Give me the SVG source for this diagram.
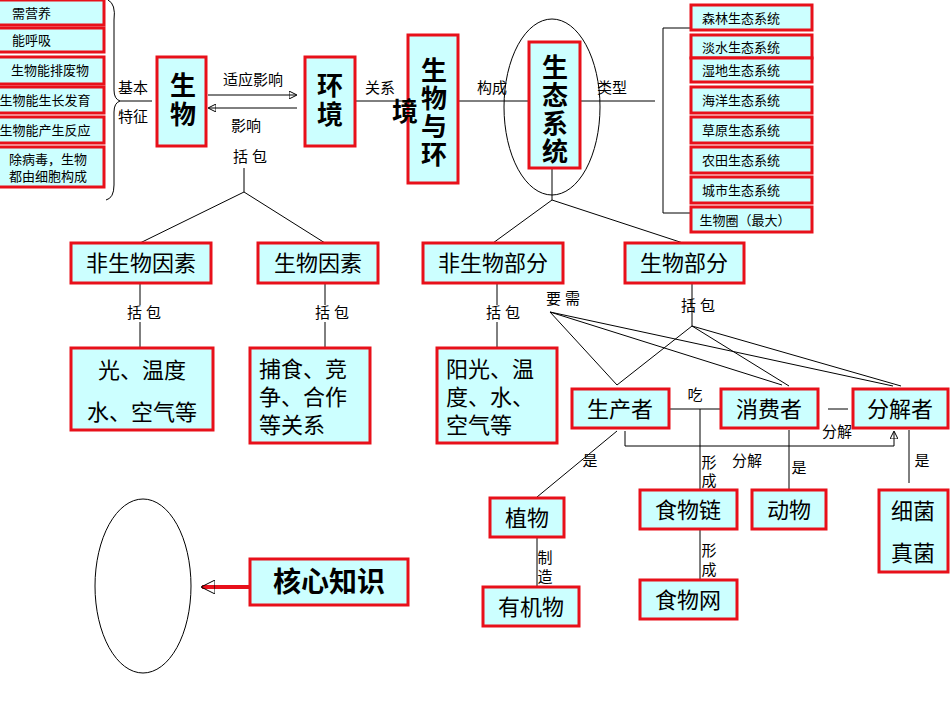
<svg xmlns="http://www.w3.org/2000/svg" width="950" height="713" viewBox="0 0 950 713">
<style>
.b{fill:#ccffff;stroke:#e8101a;stroke-width:3}
text{font-family:"Liberation Sans","Noto Sans CJK SC",sans-serif;fill:#000}
.s{font-size:13px}
.m{font-size:15px}
.l{font-size:22px}
.xl{font-size:26px;font-weight:bold}
.c{text-anchor:middle}
line,path,polyline,ellipse{stroke:#000;stroke-width:1;fill:none}
</style>
<defs>
<marker id="a" markerWidth="8" markerHeight="8" refX="7" refY="4" orient="auto" markerUnits="userSpaceOnUse"><path d="M0,0 L8,4 L0,8z" fill="#000" stroke="none"/></marker>
<marker id="r" markerWidth="14" markerHeight="14" refX="13" refY="7" orient="auto" markerUnits="userSpaceOnUse"><path d="M0,0 L14,7 L0,14z" fill="#e8101a" stroke="none"/></marker>
</defs>
<rect width="950" height="713" fill="#fff"/>
<g id="connectors">
<path d="M108,0 Q116,4 114,20 L114,90 Q114,99 120,101 Q114,103 114,112 L114,185 Q114,198 106,200"/>
<line x1="120" y1="101" x2="152" y2="101"/>
<line x1="208" y1="95" x2="296" y2="95" marker-end="url(#a)"/>
<line x1="297" y1="108" x2="209" y2="108" marker-end="url(#a)"/>
<line x1="355" y1="101" x2="408" y2="101"/>
<line x1="458" y1="101" x2="529" y2="101"/>
<line x1="580" y1="101" x2="655" y2="101"/>
<ellipse cx="552" cy="107" rx="48" ry="88"/>
<polyline points="690,28 663,28 663,213 690,213"/>
<line x1="244" y1="168" x2="244" y2="192"/>
<polyline points="140,243 244,192 325,243"/>
<line x1="140" y1="283" x2="140" y2="305"/><line x1="140" y1="322" x2="140" y2="348"/>
<line x1="325" y1="283" x2="325" y2="305"/><line x1="325" y1="322" x2="325" y2="348"/>
<line x1="552" y1="168" x2="552" y2="200"/>
<polyline points="493,243 552,200 683,243"/>
<line x1="497" y1="283" x2="497" y2="305"/><line x1="497" y1="322" x2="497" y2="348"/>
<line x1="692" y1="283" x2="692" y2="326"/>
<line x1="550" y1="312" x2="617" y2="385"/>
<line x1="550" y1="312" x2="782" y2="385"/>
<line x1="550" y1="312" x2="893" y2="386"/>
<line x1="692" y1="326" x2="617" y2="385"/>
<line x1="692" y1="326" x2="789" y2="386"/>
<line x1="692" y1="326" x2="901" y2="386"/>
<line x1="669" y1="409" x2="721" y2="409"/>
<line x1="700" y1="409" x2="700" y2="490"/>
<line x1="828" y1="409" x2="848" y2="409"/>
<polyline points="625,431 625,446 894,446 894,432" marker-end="url(#a)"/>
<line x1="617" y1="431" x2="537" y2="497"/>
<line x1="789" y1="430" x2="789" y2="490"/>
<line x1="909" y1="430" x2="909" y2="483"/>
<line x1="537" y1="537" x2="537" y2="587"/>
<line x1="700" y1="529" x2="700" y2="580"/>
<ellipse cx="143" cy="586" rx="48" ry="87"/>
<line x1="250" y1="587" x2="202" y2="587" stroke="#e8101a" style="stroke:#e8101a;stroke-width:4" marker-end="url(#r)"/>
</g>
<g class="s">
<text x="133" y="93" class="c m">基本</text>
<text x="133" y="122" class="c m">特征</text>
<text x="253" y="85" class="c m">适应影响</text>
<text x="246" y="131" class="c m">影响</text>
<text x="250" y="162" class="c m">括 包</text>
<text x="380" y="93" class="c m">关系</text>
<text x="492" y="93" class="c m">构成</text>
<text x="612" y="93" class="c m">类型</text>
<text x="144" y="318" class="c m">括 包</text>
<text x="332" y="318" class="c m">括 包</text>
<text x="503" y="318" class="c m">括 包</text>
<text x="563" y="304" class="c m">要 需</text>
<text x="698" y="311" class="c m">括 包</text>
<text x="695" y="400" class="c m">吃</text>
<text x="837" y="437" class="c m">分解</text>
<text x="747" y="466" class="c m">分解</text>
<text x="590" y="466" class="c m">是</text>
<text x="709" y="468" class="c m">形</text>
<text x="709" y="486" class="c m">成</text>
<text x="799" y="473" class="c m">是</text>
<text x="922" y="466" class="c m">是</text>
<text x="545" y="563" class="c m">制</text>
<text x="545" y="582" class="c m">造</text>
<text x="709" y="556" class="c m">形</text>
<text x="709" y="575" class="c m">成</text>
</g>
<g id="f1"><rect class="b" x="-2" y="0" width="106" height="25"/><text x="12" y="18" class="s">需营养</text></g>
<g id="f2"><rect class="b" x="-2" y="28" width="106" height="24"/><text x="12" y="45" class="s">能呼吸</text></g>
<g id="f3"><rect class="b" x="-2" y="57" width="106" height="27"/><text x="50" y="75" class="c s">生物能排废物</text></g>
<g id="f4"><rect class="b" x="-2" y="87" width="106" height="26"/><text x="45" y="105" class="c s">生物能生长发育</text></g>
<g id="f5"><rect class="b" x="-2" y="117" width="106" height="26"/><text x="45" y="135" class="c s">生物能产生反应</text></g>
<g id="f6"><rect class="b" x="-2" y="147" width="106" height="40"/><text x="48" y="164" class="c s">除病毒，生物</text><text x="48" y="181" class="c s">都由细胞构成</text></g>
<g id="sw"><rect class="b" x="157" y="57" width="49" height="89"/><text x="183" y="95" class="c xl">生</text><text x="183" y="124" class="c xl">物</text></g>
<g id="hj"><rect class="b" x="305" y="57" width="50" height="89"/><text x="330" y="95" class="c xl">环</text><text x="330" y="124" class="c xl">境</text></g>
<g id="swhj"><rect class="b" x="408" y="35" width="50" height="148"/><text x="434" y="80" class="c xl">生</text><text x="434" y="108" class="c xl">物</text><text x="434" y="136" class="c xl">与</text><text x="434" y="164" class="c xl">环</text><text x="405" y="121" class="c xl">境</text></g>
<g id="stxt"><rect class="b" x="529" y="42" width="51" height="126"/><text x="555" y="77" class="c xl">生</text><text x="555" y="105" class="c xl">态</text><text x="555" y="133" class="c xl">系</text><text x="555" y="161" class="c xl">统</text></g>
<g id="t1"><rect class="b" x="691" y="5" width="121" height="25"/><text x="741" y="23" class="c s">森林生态系统</text></g>
<g id="t2"><rect class="b" x="691" y="35" width="121" height="23"/><text x="741" y="52" class="c s">淡水生态系统</text></g>
<g id="t3"><rect class="b" x="691" y="58" width="121" height="24"/><text x="741" y="75" class="c s">湿地生态系统</text></g>
<g id="t4"><rect class="b" x="691" y="87" width="121" height="26"/><text x="741" y="105" class="c s">海洋生态系统</text></g>
<g id="t5"><rect class="b" x="691" y="117" width="121" height="26"/><text x="741" y="135" class="c s">草原生态系统</text></g>
<g id="t6"><rect class="b" x="691" y="147" width="121" height="26"/><text x="741" y="165" class="c s">农田生态系统</text></g>
<g id="t7"><rect class="b" x="691" y="177" width="121" height="26"/><text x="741" y="195" class="c s">城市生态系统</text></g>
<g id="t8"><rect class="b" x="691" y="207" width="121" height="25"/><text x="745" y="225" class="c s">生物圈（最大）</text></g>
<g id="fswys"><rect class="b" x="71" y="243" width="140" height="40"/><text x="141" y="271" class="c l">非生物因素</text></g>
<g id="swys"><rect class="b" x="258" y="243" width="120" height="40"/><text x="318" y="271" class="c l">生物因素</text></g>
<g id="fswbf"><rect class="b" x="423" y="243" width="140" height="40"/><text x="493" y="271" class="c l">非生物部分</text></g>
<g id="swbf"><rect class="b" x="625" y="243" width="119" height="40"/><text x="684" y="271" class="c l">生物部分</text></g>
<g id="gwd"><rect class="b" x="71" y="348" width="142" height="82"/><text x="142" y="378" class="c l">光、温度</text><text x="142" y="420" class="c l">水、空气等</text></g>
<g id="bs"><rect class="b" x="250" y="348" width="120" height="95"/><text x="259" y="377" class="l">捕食、竞</text><text x="259" y="405" class="l">争、合作</text><text x="259" y="433" class="l">等关系</text></g>
<g id="yg"><rect class="b" x="437" y="348" width="120" height="95"/><text x="446" y="377" class="l">阳光、温</text><text x="446" y="405" class="l">度、水、</text><text x="446" y="433" class="l">空气等</text></g>
<g id="scz"><rect class="b" x="572" y="389" width="97" height="39"/><text x="620" y="417" class="c l">生产者</text></g>
<g id="xfz"><rect class="b" x="721" y="389" width="97" height="39"/><text x="769" y="417" class="c l">消费者</text></g>
<g id="fjz"><rect class="b" x="853" y="389" width="95" height="39"/><text x="900" y="417" class="c l">分解者</text></g>
<g id="zw"><rect class="b" x="490" y="498" width="74" height="39"/><text x="527" y="526" class="c l">植物</text></g>
<g id="swl"><rect class="b" x="640" y="490" width="97" height="39"/><text x="688" y="518" class="c l">食物链</text></g>
<g id="dw"><rect class="b" x="752" y="490" width="74" height="39"/><text x="789" y="518" class="c l">动物</text></g>
<g id="xj"><rect class="b" x="879" y="490" width="69" height="82"/><text x="913" y="519" class="c l">细菌</text><text x="913" y="561" class="c l">真菌</text></g>
<g id="yjw"><rect class="b" x="483" y="587" width="96" height="39"/><text x="531" y="615" class="c l">有机物</text></g>
<g id="sww"><rect class="b" x="640" y="580" width="97" height="39"/><text x="688" y="608" class="c l">食物网</text></g>
<g id="hx"><rect class="b" x="250" y="559" width="158" height="46"/><text x="329" y="592" class="c" style="font-size:28px;font-weight:bold">核心知识</text></g>
</svg>
